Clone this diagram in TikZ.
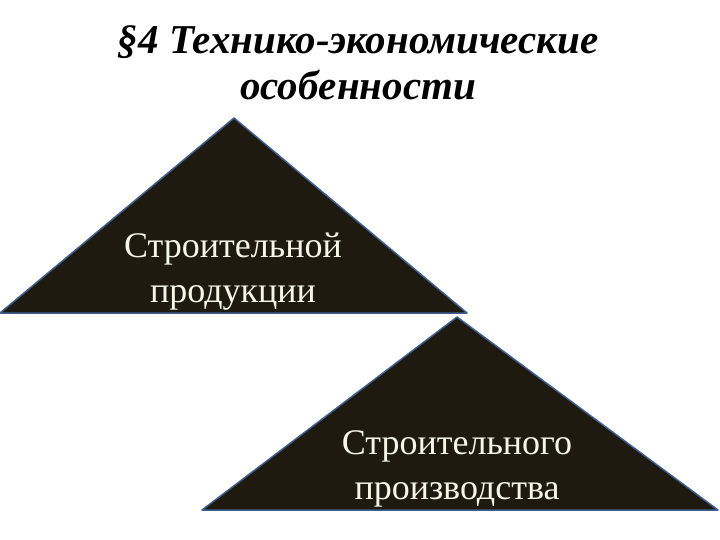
\documentclass[tikz,border=0pt]{standalone}
\usepackage{fontspec}
\setmainfont{Liberation Serif}
\definecolor{trifill}{RGB}{30,26,16}
\definecolor{triedge}{RGB}{65,95,145}
\definecolor{tritext}{RGB}{245,245,232}
\begin{document}
\begin{tikzpicture}[x=1pt,y=-1pt,line join=round,
 tri/.style={fill=trifill,draw=triedge,line width=1.5pt},
 tlabel/.style={text=tritext,align=center,font=\fontsize{36}{45}\selectfont,inner sep=0pt}]
 \useasboundingbox (0,0) rectangle (720,540);
 % title
 \node[align=center,font=\fontsize{41}{46}\selectfont\bfseries\itshape,inner sep=0pt] (title) at (358,63) {§4 Технико-экономические\\особенности};
 % upper triangle
 \coordinate (ta) at (234,118);
 \coordinate (tl) at (0,313);
 \coordinate (tr) at (467,313);
 \draw[tri] (tl)--(ta)--(tr)--cycle;
 \node[tlabel] (prod) at (233,272) {Строительной\\продукции};
 % lower triangle
 \coordinate (ba) at (457,317);
 \coordinate (bl) at (202,510);
 \coordinate (br) at (718,510);
 \draw[tri] (bl)--(ba)--(br)--cycle;
 \node[tlabel] (proizv) at (457,469) {Строительного\\производства};
\end{tikzpicture}
\end{document}
